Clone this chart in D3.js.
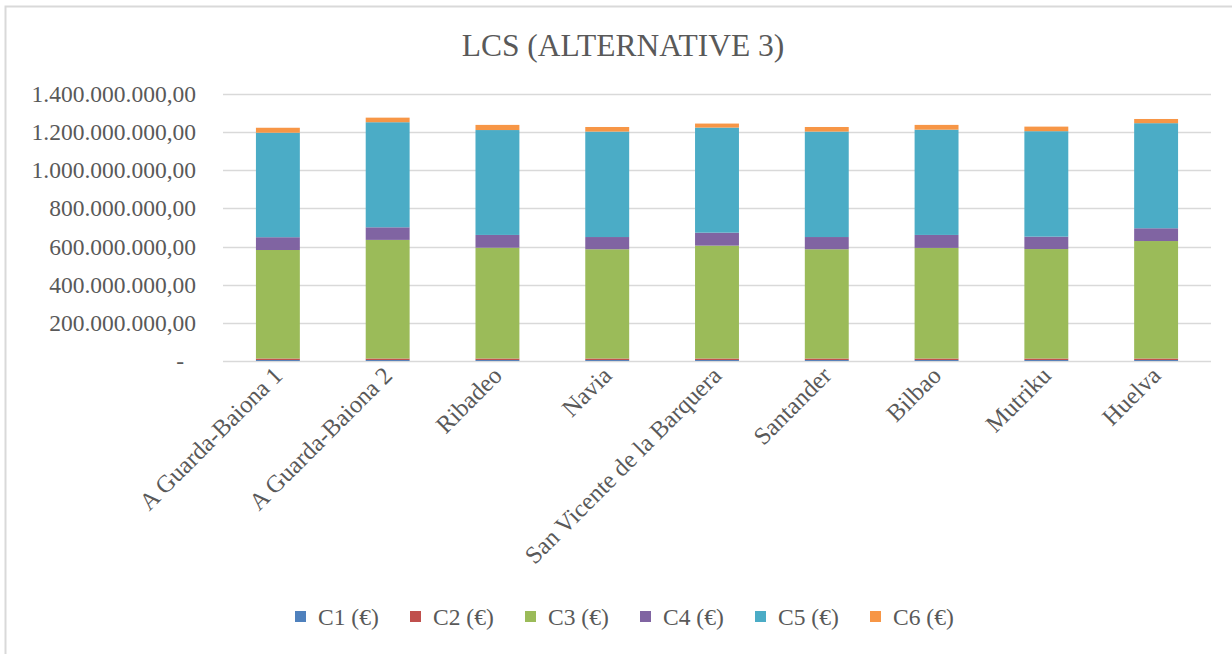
<!DOCTYPE html>
<html>
<head>
<meta charset="utf-8">
<script src="https://cdn.jsdelivr.net/npm/d3@7"></script>
<style>
  body { margin: 0; background: #fff; }
  svg text { font-family: 'Liberation Serif', 'DejaVu Serif', serif; fill: #595959; }
</style>
</head>
<body>
<svg id="chart" width="1232" height="654"></svg>
<script>
// data (euros)
const sites = ["A Guarda-Baiona 1", "A Guarda-Baiona 2", "Ribadeo", "Navia", "San Vicente de la Barquera", "Santander", "Bilbao", "Mutriku", "Huelva"];
const seriesNames = ["C1 (€)", "C2 (€)", "C3 (€)", "C4 (€)", "C5 (€)", "C6 (€)"];
const c1 = [5e6, 5e6, 5e6, 5e6, 5e6, 5e6, 5e6, 5e6, 5e6];
const c2 = [8e6, 8e6, 8e6, 8e6, 8e6, 8e6, 8e6, 8e6, 8e6];
const c3 = [569e6, 622e6, 581e6, 573e6, 592e6, 573e6, 580e6, 574e6, 616e6];
const c4 = [67e6, 66e6, 67e6, 64e6, 68e6, 64e6, 68e6, 65e6, 67e6];
const c5 = [548e6, 551e6, 550e6, 553e6, 551e6, 553e6, 552e6, 553e6, 551e6];
const c6 = [26e6, 24e6, 27e6, 24e6, 21e6, 24e6, 25e6, 24e6, 22e6];
const colors = ["#4f81bd", "#c0504d", "#9bbb59", "#8064a2", "#4bacc6", "#f79646"];
const yTicks = [0, 2e8, 4e8, 6e8, 8e8, 10e8, 12e8, 14e8];

const svg = d3.select('#chart');

// outer frame
svg.append('rect')
	.attr('x', 5.5).attr('y', 6.5)
	.attr('width', 1240).attr('height', 660)
	.style('fill', 'none')
	.style('stroke', '#d9d9d9')
	.style('stroke-width', 2);

// title
svg.append('text')
	.attr('x', 623).attr('y', 56)
	.attr('text-anchor', 'middle')
	.style('font-size', '31.5px')
	.text('LCS (ALTERNATIVE 3)');

const x = d3.scaleBand().domain(sites).range([223, 1211]).paddingInner(0.6).paddingOuter(0.3);
const y = d3.scaleLinear().domain([0, 1.4e9]).range([361, 94]);

// gridlines
svg.append('g')
	.selectAll('line')
	.data(yTicks)
	.join('line')
	.attr('x1', 223).attr('x2', 1211)
	.attr('y1', d => Math.round(y(d)) + 0.5)
	.attr('y2', d => Math.round(y(d)) + 0.5)
	.style('stroke', '#d9d9d9')
	.style('stroke-width', 1.5);

// y axis labels
const fmt = d => d === 0 ? '-' : d3.formatLocale({decimal: ',', thousands: '.', grouping: [3], currency: ['', '']}).format(',.2f')(d);
svg.append('g')
	.selectAll('text')
	.data(yTicks)
	.join('text')
	.attr('x', d => d === 0 ? 184 : 196)
	.attr('y', d => y(d) + 8)
	.attr('text-anchor', 'end')
	.style('font-size', '23.5px')
	.text(fmt);

// stacked bars
const rows = sites.map((s, i) => ({site: s, C1: c1[i], C2: c2[i], C3: c3[i], C4: c4[i], C5: c5[i], C6: c6[i]}));
const stack = d3.stack().keys(["C1", "C2", "C3", "C4", "C5", "C6"])(rows);

svg.append('g')
	.selectAll('g')
	.data(stack)
	.join('g')
	.style('fill', (d, i) => colors[i])
	.selectAll('rect')
	.data(d => d)
	.join('rect')
	.attr('x', d => x(d.data.site))
	.attr('width', x.bandwidth())
	.attr('y', d => y(d[1]))
	.attr('height', d => y(d[0]) - y(d[1]));

// x labels
svg.append('g')
	.selectAll('text')
	.data(sites)
	.join('text')
	.attr('text-anchor', 'end')
	.attr('transform', d => 'translate(' + (x(d) + x.bandwidth() / 2 + 6) + ',377) rotate(-45)')
	.style('font-size', '24.5px')
	.text(d => d);

// legend
const legendItems = svg.append('g')
	.selectAll('g')
	.data(seriesNames)
	.join('g')
	.attr('transform', (d, i) => 'translate(' + (295 + i * 115) + ',611)');

legendItems.append('rect')
	.attr('width', 11).attr('height', 11)
	.style('fill', (d, i) => colors[i]);

legendItems.append('text')
	.attr('x', 23).attr('y', 14)
	.style('font-size', '23.5px')
	.text(d => d);
</script>
</body>
</html>
